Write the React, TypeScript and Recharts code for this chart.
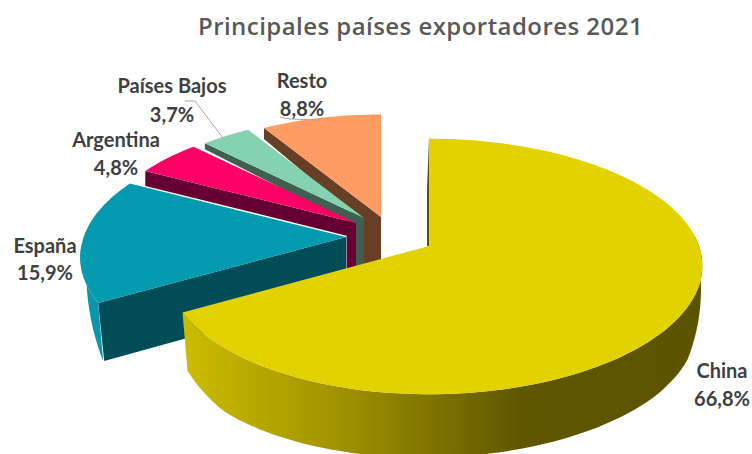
import React from "react";
import { PieChart, Pie } from "recharts";

const countries = ["Resto", "Países Bajos", "Argentina", "España", "China"];
const shares = [8.8, 3.7, 4.8, 15.9, 66.8];
const shareLabels = ["8,8%", "3,7%", "4,8%", "15,9%", "66,8%"];
const chartData = countries.map((name, i) => ({ name, value: shares[i] }));

const faceColors: Record<string, string> = {
  China: "#e1d200",
  "España": "#049bb0",
  Argentina: "#ff0066",
  "Países Bajos": "#84d2b0",
  Resto: "#ff9c63",
};
const wallColors: Record<string, string> = {
  China: "#5c5300",
  "España": "#004d57",
  Argentina: "#660033",
  "Países Bajos": "#3f5f50",
  Resto: "#683f24",
};
// exploded offset, radius scale and radial-wall look per slice (styling only)
const sliceStyle: Record<string, any> = {
  Resto: { dx: -48, dy: -29, rs: 0.955, skew: 0, od: 11, kt: 0.85, kd: 19, ad: 50 },
  "Países Bajos": { dx: -65, dy: -28, rs: 0.945, skew: 0, od: 6, kt: 0.95, kd: 12, ad: 48 },
  Argentina: { dx: -73, dy: -23, rs: 0.965, skew: 0, od: 15, kt: 0.955, kd: 15, ad: 48 },
  "España": { dx: -83, dy: -9, rs: 0.99, skew: 0, od: 58, kt: 1, kd: 57, ad: 57 },
  China: { dx: 0, dy: 0, rs: 1, skew: 5, od: 0, kt: 1, kd: 0, ad: 0 },
};
const labelStyle: Record<string, any> = {
  China: { dx: 293, y1: 132, y2: 160 },
  "España": { dx: -384, y1: 7, y2: 34 },
  Argentina: { dx: -313, y1: -99, y2: -71 },
  "Países Bajos": { dx: -257, y1: -153, y2: -124 },
  Resto: { dx: -127, y1: -158, y2: -130 },
};
// wall height along the rim, as [clock angle, height] knots
const rimDepth = [
  [85, 0],
  [100, 30],
  [115, 57],
  [130, 60],
  [175, 63],
  [225, 66],
  [240.6, 58],
  [268, 0],
];

const PERSP = 0.16;
const SQUASH = 0.47;
const rad = (a: number) => (a * Math.PI) / 180;
const norm = (a: number) => ((a % 360) + 360) % 360;

function project(R: number, clock: number, f: number, skew: number) {
  const s = Math.sin(rad(clock));
  const c = Math.cos(rad(clock));
  const w = 1 + PERSP * f * c;
  return { x: (R * f * s) / w + skew * f * s * s, y: (-R * SQUASH * f * c) / w };
}
function outerDepth(a: number) {
  if (a < rimDepth[0][0] || a > rimDepth[rimDepth.length - 1][0]) return 0;
  for (let i = 1; i < rimDepth.length; i++) {
    const [a0, d0] = rimDepth[i - 1];
    const [a1, d1] = rimDepth[i];
    if (a <= a1) return d0 + ((d1 - d0) * (a - a0)) / (a1 - a0);
  }
  return 0;
}
function outerShift(a: number) {
  if (a < 85) return 0;
  if (a < 115) return (-3 * (a - 85)) / 30;
  if (a < 160) return (-3 * (160 - a)) / 45;
  if (a > 180) return Math.min(6, ((a - 180) / 60) * 5);
  return 0;
}
const toPath = (pts: { x: number; y: number }[]) =>
  pts.map((p, i) => `${i ? "L" : "M"}${p.x.toFixed(1)} ${p.y.toFixed(1)}`).join(" ") + " Z";

function Slice(props: any) {
  const { cx, cy, outerRadius, startAngle, endAngle, name } = props;
  const st = sliceStyle[name];
  const ox = cx + st.dx;
  const oy = cy + st.dy;
  const a0 = 90 - startAngle;
  const a1 = 90 - endAngle;
  const n = Math.max(4, Math.ceil(Math.abs(a1 - a0) / 2));
  const angles = Array.from({ length: n + 1 }, (_, i) => a0 + ((a1 - a0) * i) / n);
  const at = (a: number, f = 1) => {
    const p = project(outerRadius * st.rs, a, f, st.skew);
    return { x: ox + p.x, y: oy + p.y };
  };
  const apex = { x: ox, y: oy };
  const face = [apex, ...angles.map((a) => at(a))];

  const front = angles.filter((a) => outerDepth(norm(a)) > 0);
  const wallTop = front.map((a) => at(a));
  const wallBottom = front
    .map((a) => {
      const p = at(a);
      const na = norm(a);
      return { x: p.x + outerShift(na), y: p.y + outerDepth(na) };
    })
    .reverse();
  const gradId = `wall-${countries.indexOf(name)}`;

  let radial: { x: number; y: number }[] | null = null;
  if (name !== "China") {
    const o = at(a1);
    const k = { x: o.x + (apex.x - o.x) * st.kt, y: o.y + (apex.y - o.y) * st.kt };
    const shift = name === "España" ? 6 : 0;
    radial = [
      o,
      apex,
      { x: apex.x, y: apex.y + st.ad },
      { x: k.x, y: apex.y + st.ad },
      { x: k.x, y: k.y + st.kd },
      { x: o.x + shift, y: o.y + st.od },
    ];
  }
  const top = at(0);
  return (
    <g>
      <defs>
        {name === "China" ? (
          <linearGradient id={gradId} x1="0" x2="1" y1="0" y2="0">
            <stop offset="0" stopColor="#ccbc00" />
            <stop offset="0.3" stopColor="#a09300" />
            <stop offset="0.65" stopColor="#5f5600" />
            <stop offset="1" stopColor="#5c5300" />
          </linearGradient>
        ) : (
          <linearGradient id={gradId} x1="0" x2="1" y1="0" y2="0">
            <stop offset="0" stopColor="#0a97ac" />
            <stop offset="1" stopColor="#0a97ac" />
          </linearGradient>
        )}
      </defs>
      {radial && <path d={toPath(radial)} fill={wallColors[name]} />}
      {front.length > 1 && <path d={toPath([...wallTop, ...wallBottom])} fill={`url(#${gradId})`} />}
      {name === "China" && (
        <path
          d={toPath([top, apex, { x: apex.x - 2, y: apex.y }, { x: top.x - 2, y: top.y + 50 }])}
          fill={wallColors[name]}
        />
      )}
      <path d={toPath(face)} fill={faceColors[name]} />
    </g>
  );
}

function SliceLabel(props: any) {
  const { cx, cy, name } = props;
  const ls = labelStyle[name];
  const i = countries.indexOf(name);
  const x = cx + ls.dx;
  const textProps = {
    x,
    textAnchor: "middle" as const,
    fontFamily: "Lato, 'Noto Sans', sans-serif",
    fontWeight: 700,
    fontSize: 20,
    fill: "#404040",
  };
  return (
    <g>
      {name === "Países Bajos" && (
        <polyline
          points={`${cx - 244},${cy - 145} ${cx - 234},${cy - 145} ${cx - 206},${cy - 108}`}
          fill="none"
          stroke="#a6a6a6"
          strokeWidth={1}
        />
      )}
      {name === "Resto" && (
        <polyline
          points={`${cx - 149},${cy - 129} ${cx - 139},${cy - 127} ${cx - 110},${cy - 126}`}
          fill="none"
          stroke="#a6a6a6"
          strokeWidth={1}
        />
      )}
      <text {...textProps} y={cy + ls.y1}>{name}</text>
      <text {...textProps} y={cy + ls.y2}>{shareLabels[i]}</text>
    </g>
  );
}

export default function App() {
  return (
    <div style={{ position: "absolute", left: 0, top: 0, width: 752, height: 454, overflow: "hidden", background: "#fff" }}>
      <PieChart width={752} height={454} margin={{ top: 0, right: 0, bottom: 0, left: 0 }}>
        <text
          x={420.5}
          y={35}
          textAnchor="middle"
          fontFamily="'Open Sans', sans-serif"
          fontWeight={600}
          fontSize={24}
          letterSpacing={0.45}
          fill="#595959"
        >
          Principales países exportadores 2021
        </text>
        <Pie
          data={chartData}
          dataKey="value"
          nameKey="name"
          cx={429}
          cy={246}
          innerRadius={0}
          outerRadius={265}
          startAngle={90}
          endAngle={450}
          stroke="none"
          isAnimationActive={false}
          shape={Slice}
          label={SliceLabel}
          labelLine={false}
        />
      </PieChart>
    </div>
  );
}
